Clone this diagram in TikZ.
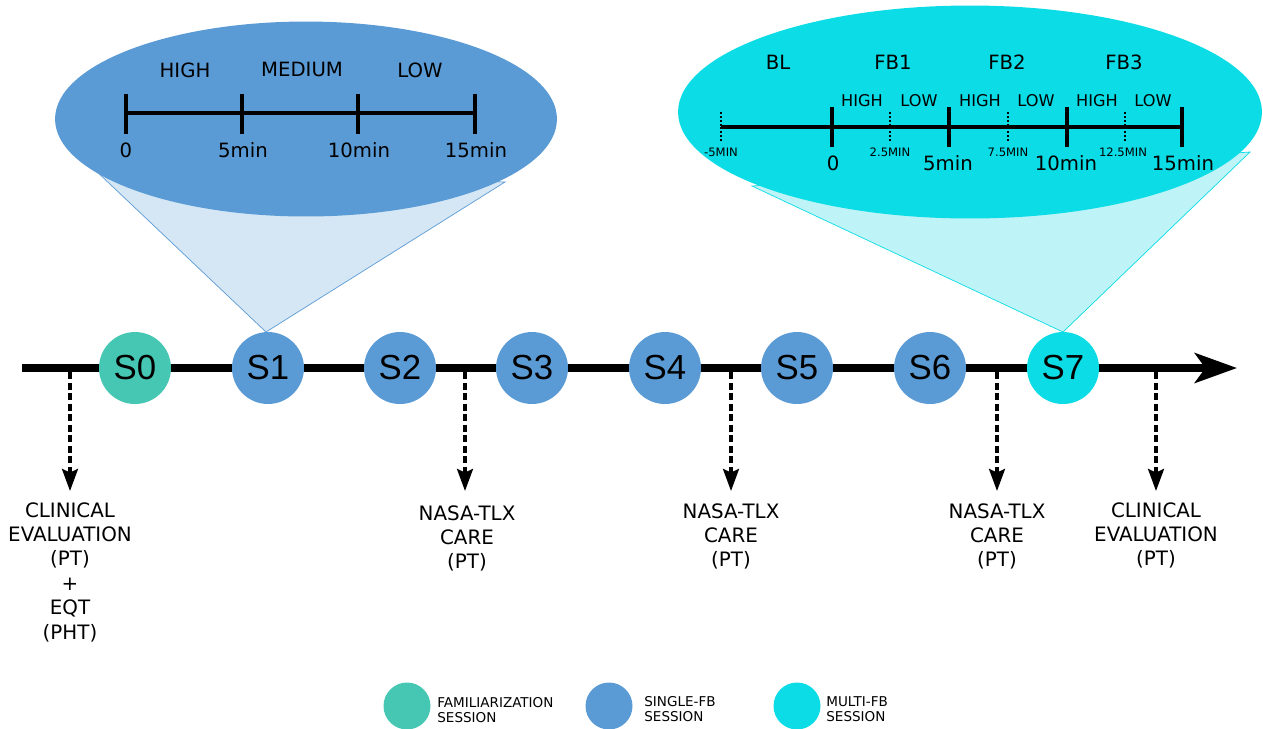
\documentclass[tikz,border=0pt]{standalone}
\usepackage{fontspec}
\setmainfont{DejaVu Sans}
\newfontfamily\arialf{Liberation Sans}
\usetikzlibrary{arrows.meta}
\definecolor{famc}{HTML}{45C7B4}
\definecolor{singc}{HTML}{5B9BD5}
\definecolor{multc}{HTML}{0BDCE5}
\definecolor{conel}{HTML}{D5E7F5}
\definecolor{coner}{HTML}{BEF4F7}
\begin{document}
\begin{tikzpicture}[x=0.02cm,y=-0.02cm,
  sess/.style={circle,minimum size=1.44cm,inner sep=0pt,font=\arialf\fontsize{19.8}{20}\selectfont},
  lbl/.style={align=center,inner sep=0pt,font=\fontsize{11.3}{13.9}\selectfont},
  tl/.style={inner sep=0pt,font=\fontsize{11.2}{12}\selectfont},
  tlm/.style={inner sep=0pt,font=\fontsize{9.2}{10}\selectfont},
  tls/.style={inner sep=0pt,font=\fontsize{6.6}{7}\selectfont},
  leg/.style={circle,minimum size=0.94cm,inner sep=0pt},
  legt/.style={align=left,anchor=west,inner sep=0pt,font=\fontsize{7.7}{8.6}\selectfont},
  axisline/.style={line width=4pt,-{Stealth[length=24pt,width=17pt,inset=6pt]}},
  dasharr/.style={line width=2.1pt,dash pattern=on 4pt off 2pt,-{Stealth[length=12.5pt,width=9pt,inset=2pt]}},
  tick/.style={line width=2pt},
  dottick/.style={line width=1.3pt,dash pattern=on 1.1pt off 1.1pt}
]
\useasboundingbox (0,0) rectangle (1263,728);

% cones
\filldraw[fill=conel,draw=singc,line width=0.4pt] (266,332) -- (93,168) -- (505,182) -- cycle;
\filldraw[fill=coner,draw=multc,line width=0.4pt] (1063,332) -- (752,186) -- (1250,152) -- cycle;

% ellipses
\fill[singc] (306,119) ellipse [x radius=5.02cm, y radius=1.95cm];
\fill[multc] (970,112) ellipse [x radius=5.84cm, y radius=2.13cm];

% left timeline
\draw[tick] (126,113) -- (475,113);
\foreach \x in {126,242,358,475} \draw[tick] (\x,94) -- (\x,134);
\node[tl] (lh) at (185,70) {HIGH};
\node[tl] (lm) at (302,69) {MEDIUM};
\node[tl] (ll) at (420,70) {LOW};
\node[tl] (l0) at (126,150) {0};
\node[tl] (l5) at (243,150) {5min};
\node[tl] (l10) at (359,150) {10min};
\node[tl] (l15) at (476,150) {15min};

% right timeline
\draw[tick] (721,127) -- (1182,127);
\foreach \x in {832,949,1067,1182} \draw[tick] (\x,107) -- (\x,147);
\foreach \x in {721,890,1008,1125} \draw[dottick] (\x,112) -- (\x,142);
\node[tl] (rbl) at (778,62) {BL};
\node[tl] (rf1) at (893,62) {FB1};
\node[tl] (rf2) at (1007,62) {FB2};
\node[tl] (rf3) at (1124,62) {FB3};
\node[tlm] (rh1) at (862,101) {HIGH};
\node[tlm] (rl1) at (919,101) {LOW};
\node[tlm] (rh2) at (980,101) {HIGH};
\node[tlm] (rl2) at (1036,101) {LOW};
\node[tlm] (rh3) at (1097,101) {HIGH};
\node[tlm] (rl3) at (1153,101) {LOW};
\node[tls] (rm5) at (721,152) {-5MIN};
\node[tls] (r25) at (890,152) {2.5MIN};
\node[tls] (r75) at (1008,152) {7.5MIN};
\node[tls] (r125) at (1123,152) {12.5MIN};
\node[tl] (r0) at (833,163) {0};
\node[tl] (r5) at (948,163) {5min};
\node[tl] (r10) at (1066,163) {10min};
\node[tl] (r15) at (1183,163) {15min};

% main axis
\coordinate (axs) at (22,368);
\coordinate (axe) at (1237,368);
\draw[axisline] (axs) -- (axe);

% sessions
\node[sess,fill=famc] (s0) at (135,368) {S0};
\node[sess,fill=singc] (s1) at (268,368) {S1};
\node[sess,fill=singc] (s2) at (400,368) {S2};
\node[sess,fill=singc] (s3) at (532,368) {S3};
\node[sess,fill=singc] (s4) at (665,368) {S4};
\node[sess,fill=singc] (s5) at (797,368) {S5};
\node[sess,fill=singc] (s6) at (930,368) {S6};
\node[sess,fill=multc] (s7) at (1063,368) {S7};

% dashed arrows
\foreach \n/\x in {0/70,1/465,2/731,3/997,4/1156}{
  \coordinate (a\n) at (\x,372);
  \coordinate (e\n) at (\x,491);
  \draw[dasharr] (a\n) -- (e\n);
}

% texts
\node[lbl,anchor=north] (t0) at (70,502) {CLINICAL\\EVALUATION\\(PT)\\+\\EQT\\(PHT)};
\node[lbl,anchor=north] (t1) at (467,505) {NASA-TLX\\CARE\\(PT)};
\node[lbl,anchor=north] (t2) at (731,503) {NASA-TLX\\CARE\\(PT)};
\node[lbl,anchor=north] (t3) at (997,503) {NASA-TLX\\CARE\\(PT)};
\node[lbl,anchor=north] (t4) at (1156,502) {CLINICAL\\EVALUATION\\(PT)};

% legend
\node[leg,fill=famc] (g1) at (407,706) {};
\node[legt] (g1t) at (437,710) {FAMILIARIZATION\\SESSION};
\node[leg,fill=singc] (g2) at (609,706) {};
\node[legt] (g2t) at (644,709) {SINGLE-FB\\SESSION};
\node[leg,fill=multc] (g3) at (797,706) {};
\node[legt] (g3t) at (826,709) {MULTI-FB\\SESSION};
\end{tikzpicture}
\end{document}
